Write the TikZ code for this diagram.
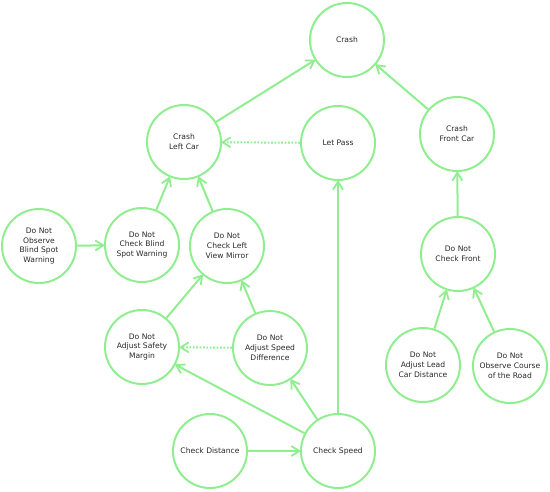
\documentclass[tikz,border=0pt]{standalone}
\usepackage{fontspec}
\setmainfont{DejaVu Sans}
\usetikzlibrary{arrows.meta}
\definecolor{edgegreen}{RGB}{144,238,144}
\definecolor{txt}{RGB}{40,40,40}
\tikzset{
  st/.style={circle, draw=edgegreen, line width=2pt, minimum size=74pt, inner sep=0pt,
    align=center, text=txt, font=\fontsize{7.6pt}{9.8pt}\selectfont},
  link/.style={draw=edgegreen, line width=2pt, shorten >=-1pt, -{Straight Barb[length=8pt,width=10pt,line width=1.8pt]}},
  dotlink/.style={link, dash pattern=on 1.8pt off 1.6pt},
}
\begin{document}
\begin{tikzpicture}[x=1pt,y=-1pt]
\useasboundingbox (0,0) rectangle (550,491);
\node[st] (crash) at (347,40) {Crash};
\node[st] (cleft) at (184,142) {Crash\\Left Car};
\node[st] (letpass) at (338,143) {Let Pass};
\node[st] (cfront) at (457,134) {Crash\\Front Car};
\node[st] (obs) at (39,246) {Do Not\\Observe\\Blind Spot\\Warning};
\node[st] (cblind) at (142,245) {Do Not\\Check Blind\\Spot Warning};
\node[st] (cmirror) at (227,246) {Do Not\\Check Left\\View Mirror};
\node[st] (cfront2) at (458,254) {Do Not\\Check Front};
\node[st] (safety) at (142,347) {Do Not\\Adjust Safety\\Margin};
\node[st] (speeddiff) at (270,348) {Do Not\\Adjust Speed\\Difference};
\node[st] (lead) at (423,365) {Do Not\\Adjust Lead\\Car Distance};
\node[st] (course) at (510,366) {Do Not\\Observe Course\\of the Road};
\node[st] (cdist) at (210,451) {Check Distance};
\node[st] (cspeed) at (338,451) {Check Speed};

\draw[link] (cleft) -- (crash);
\draw[link] (cfront) -- (crash);
\draw[dotlink] (letpass) -- (cleft);
\draw[link] (cblind) -- (cleft);
\draw[link] (cmirror) -- (cleft);
\draw[link] (obs) -- (cblind);
\draw[link] (safety) -- (cmirror);
\draw[link] (speeddiff) -- (cmirror);
\draw[dotlink] (speeddiff) -- (safety);
\draw[link] (cspeed) -- (safety);
\draw[link] (cspeed) -- (speeddiff);
\draw[link] (cspeed) -- (letpass);
\draw[link] (cdist) -- (cspeed);
\draw[link] (cfront2) -- (cfront);
\draw[link] (lead) -- (cfront2);
\draw[link] (course) -- (cfront2);
\end{tikzpicture}
\end{document}
